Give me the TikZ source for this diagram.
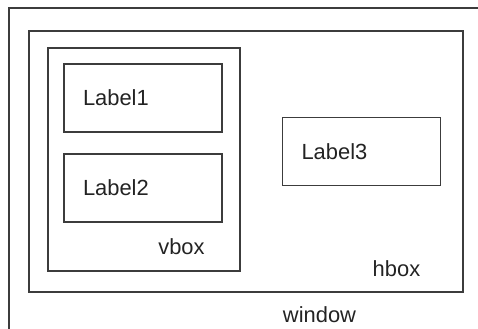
\documentclass[tikz,border=0pt]{standalone}
\usepackage{fontspec}
\setmainfont{Liberation Sans}
\usepackage{tikz}
\usetikzlibrary{positioning}
\definecolor{linegray}{RGB}{60,60,60}
\definecolor{textgray}{RGB}{35,35,35}

\begin{document}
\begin{tikzpicture}[
  x=1bp,y=-1bp,
  font=\fontsize{22}{26}\selectfont,
  widget/.style={rectangle,draw=linegray,line width=1.1bp,fill=white,text=textgray,align=left,inner xsep=19bp,text width=120bp,minimum height=68bp},
  container/.style={rectangle,draw=linegray,line width=1.1bp,inner sep=0pt},
  caption/.style={text=textgray,inner sep=0pt}
]
\useasboundingbox (0,0) rectangle (478,328);
\clip (0,0) rectangle (478,328);
% window (runs off the page)
\node[container,minimum width=500bp,minimum height=350bp] (window) at (259,183) {};
\node[caption] (windowtxt) at (319.5,315) {window};
% hbox and vbox
\node[container,minimum width=434bp,minimum height=261bp] (hbox) at (246,161.5) {};
\node[caption] (hboxtxt) at (396.5,269) {hbox};
\node[container,minimum width=192bp,minimum height=223bp] (vbox) at (144,159.5) {};
\node[caption] (vboxtxt) at (181.5,247) {vbox};
% labels
\node[widget,minimum width=158bp] (label1) at (143,98) {Label1};
\node[widget,minimum width=158bp] (label2) at (143,188) {Label2};
\node[widget,minimum width=157bp] (label3) at (361.5,151.5) {Label3};
\end{tikzpicture}
\end{document}
